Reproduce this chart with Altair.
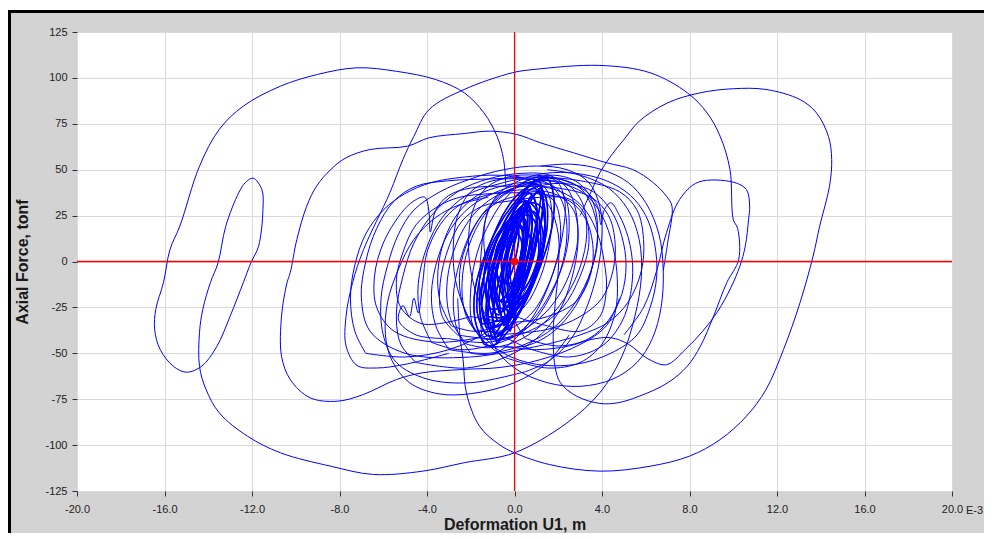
import altair as alt
import pandas as pd

X_TICKS = [-20, -16, -12, -8, -4, 0, 4, 8, 12, 16, 20]
Y_TICKS = [-125, -100, -75, -50, -25, 0, 25, 50, 75, 100, 125]

SEG_LEFT = [(-0.4,41),(-0.5,55.6),(-0.8,68.2),(-1.4,81.0),(-2.3,91.9),(-3.6,99.1),(-5.4,103.6),(-7.2,105.5),
            (-9.0,101.9),(-10.7,95.5),(-12.4,84.6),(-13.5,71.9),(-14.4,51.9),(-15.3,19.2),(-15.75,6.5),
            (-16.05,-11.6),(-16.4,-26.1),(-16.45,-37.0),(-16.2,-47.9),(-15.6,-57.0),(-15.0,-60.3),(-14.3,-57.0),
            (-13.6,-46.1),(-13.0,-29.8),(-12.4,-11.6),(-12.05,-0.7),(-11.7,8.3),(-11.5,28.3),(-11.55,39.2),
            (-11.95,45.4),(-12.3,43.0),(-12.6,37.6),(-13.2,19.2),(-13.55,-0.7),(-13.9,-11.4),(-14.25,-26.1),
            (-14.4,-38.7),(-14.4,-57.2),(-14.1,-69.7),(-13.5,-82.4),(-12.2,-95.2),(-10.7,-104.2),(-8.4,-111.5),
            (-6.45,-116.0),(-4.2,-114.2),(-2.3,-109.6),(0.0,-104.2),(2.4,-87.9),(3.9,-71.5),(4.9,-52),(5.5,-30),
            (5.8,-8),(5.7,12),(5.2,28),(4.3,40),(3.0,47),(1.5,50)]
SEG_TOP = [(-3.0,-50),(-5.0,-56),(-6.3,-58),(-7.2,-56.6),(-7.7,-46),(-7.7,-29.8),(-7.4,-11.4),(-6.9,6.5),
           (-5.7,37.4),(-5.1,55.6),(-4.6,68.2),(-3.9,82.8),(-2.3,93.7),(-0.1,102.8),(0.9,104.6),(3.9,106.8),
           (6.2,102.8),(7.9,91.9),(8.8,81.0),(9.4,68.2),(9.85,50.1),(10.0,22.9),(10.2,18),(10.25,1.1),
           (9.7,-11.6),(9.1,-29.8),(8.5,-46.1),(7.9,-57.0),(7.0,-66.1),(5.7,-73.4),(4.7,-77.0),(3.9,-77.3),
           (2.85,-73.4),(2.1,-66.1),(1.85,-57),(1.77,-38.7),(1.85,-24.3),(2.0,-5),(2.0,15),(1.6,30),(1.0,38)]
SEG_RIGHT = [(-2.6,-20),(-2.5,-40),(-2.35,-53.4),(-2.2,-71.5),(-1.6,-89.7),(-0.7,-99.7),(0.0,-104.2),
             (1.6,-110.6),(3.9,-114.2),(6.2,-111.5),(8.0,-106.0),(9.4,-97.0),(10.6,-84.3),(11.5,-69.7),
             (12.3,-47.9),(13.05,-22.5),(13.65,2.9),(13.95,19.2),(14.4,41.0),(14.5,55.6),(14.35,68.2),
             (13.8,81.0),(13.05,88.2),(11.5,93.7),(10.0,94.1),(8.5,91.9),(7.0,86.4),(5.7,76.4),(5.0,66.4),
             (4.4,57.4),(3.9,48.3),(3.5,38),(3.0,25)]
SEG_WIDE = [(6.8,-5),(7.0,10),(7.2,30.1),(6.95,35.5),(6.35,42.9),(5.4,50.1),(4.2,53.8),(2.7,59.2),(1.2,64.6),
            (0.1,69.2),(-1.1,71.0),(-2.3,69.7),(-3.9,67.4),(-4.9,62.8),(-6.6,61.0),(-7.7,56.5),(-8.4,50.1),
            (-9.05,41.0),(-9.5,30.1),(-9.95,12.0),(-10.25,-6.0),(-10.4,-11.6),(-10.65,-29.8),(-10.65,-51.6),
            (-10.25,-64.3),(-9.35,-74.2),(-8.1,-76.1),(-6.9,-72.4),(-5.4,-64.3),(-4.2,-60.6),(-2.35,-58.8),
            (-0.65,-57.7),(1.2,-53.4),(3.0,-45.2),(4.2,-35),(4.8,-20)]
SEG_FLAT = [(5.0,-40),(5.9,-25),(6.5,-5),(6.95,15.8),(7.55,33.8),(8.4,43.2),(10.0,43.2),(10.6,39.2),
            (10.75,30.1),(10.7,22.9),(10.55,8.3),(10.3,-2.6),(9.9,-14),(9.3,-27),(8.6,-38),(7.8,-48),
            (6.95,-56.2),(6.1,-53),(5.2,-45),(4.4,-41.5),(3.5,-42.5),(2.5,-46),(1.0,-48),(-0.5,-46)]

MID_A = [(1.5,-45),(-2.0,-52),(-5.0,-50),(-6.6,-38),(-7.0,-20),(-6.8,0),(-6.3,18),(-5.5,33),(-4.5,41),(-3.0,44),
         (-1.0,45),(1.0,46),(3.0,44),(4.8,38),(5.6,28),(5.9,12),(5.8,-5),(5.2,-22),(4.3,-33),(3.0,-40),(1.5,-45)]
MID_B = [(-1.0,-40),(-3.5,-44),(-5.5,-38),(-6.3,-25),(-6.4,-8),(-6.0,10),(-5.2,26),(-4.6,33),(-4.1,35),(-3.9,26),
         (-3.85,16),(-3.6,28),(-3.0,36),(-2.0,40),(0.0,41),(2.0,40),(3.5,35),(4.3,25),(4.6,10),(4.5,-5),(4.0,-20),
         (3.0,-30),(1.5,-37),(-1.0,-40)]
MID_C = [(-2.0,-30),(-4.2,-34),(-5.2,-25),(-5.4,-10),(-5.1,5),(-4.5,20),(-3.5,30),(-2.5,35),(-1.0,37),(1.0,37),
         (2.5,33),(3.3,22),(3.6,5),(3.4,-10),(2.8,-22),(1.5,-30),(0.0,-33),(-2.0,-30)]
MID_D = [(0.5,-60),(-2.0,-66),(-4.0,-64),(-5.4,-55),(-6.0,-40),(-6.1,-20),(-5.8,-2),(-5.3,15),(-4.6,28),(-3.4,38),
         (-2.0,45),(-0.5,50),(1.0,52),(2.4,50),(3.4,43),(3.9,30),(4.0,15),(3.8,-5),(3.3,-25),(2.6,-42),(1.6,-54),(0.5,-60)]
MID_E = [(-3.0,-42),(-4.5,-40),(-5.3,-32),(-5.1,-24),(-4.8,-30),(-4.6,-20),(-4.4,-28),(-4.2,-12),(-4.0,5),(-3.4,20),
         (-2.6,30),(-1.6,35),(-0.5,38),(0.8,39),(2.0,36),(2.7,28),(2.9,15),(2.7,0),(2.2,-15),(1.4,-28),(0.3,-38),
         (-1.2,-44),(-3.0,-42)]
MID_F = [(2.5,-40),(1.5,-55),(0.0,-66),(-2.0,-72),(-3.5,-72),(-4.8,-66),(-5.6,-54),(-5.9,-40),(-5.8,-22),(-5.3,-4),
         (-4.6,12),(-3.6,24),(-2.5,31),(-1.2,35)]
MID_G = [(-1.5,-25),(-1.0,-45),(0.0,-58),(1.5,-66),(3.0,-68),(4.5,-64),(5.6,-55),(6.3,-42),(6.7,-25),(6.8,-5),
         (6.6,15),(6.0,32),(5.2,43),(4.0,50),(2.6,53),(1.2,52)]
MID_H = [(-4.5,-55),(-5.2,-45),(-5.4,-28),(-5.1,-8),(-4.6,10),(-3.8,25),(-2.6,38),(-1.2,45),(0.3,48),(1.6,47),
         (2.4,40),(2.8,28),(2.9,10),(2.6,-10),(2.0,-28),(1.0,-42),(-0.4,-52),(-2.2,-58),(-4.5,-55)]
MID_I = [(-6.8,-50),(-7.3,-38),(-7.5,-20),(-7.3,-2),(-6.8,15),(-6.0,28),(-5.0,37),(-3.8,43),(-2.3,46),(-0.8,47),
         (0.5,45),(1.2,38),(1.4,25),(1.2,8),(0.7,-10),(0.0,-25),(-1.2,-38),(-3.0,-48),(-5.0,-52),(-6.8,-50)]
RGT_A = [(-0.5,-52),(1.5,-58),(3.0,-55),(4.0,-45),(4.6,-28),(4.7,-10),(4.5,8),(4.0,25),(3.2,37),(2.0,43),(0.5,45),
         (-1.0,44),(-2.0,38),(-2.6,25),(-2.8,8),(-2.7,-10),(-2.2,-28),(-1.5,-42),(-0.5,-52)]
RGT_B = [(0.8,-48),(2.5,-52),(4.0,-46),(4.9,-33),(5.3,-18),(5.4,-2),(5.2,13),(4.8,25),(4.4,32),(4.1,28),(3.95,20),
         (3.8,30),(3.3,38),(2.3,44),(1.0,47),(-0.3,46),(-1.3,40),(-1.9,28),(-2.1,12),(-2.0,-5),(-1.6,-22),(-0.8,-38),(0.8,-48)]
RGT_C = [(1.5,-35),(3.0,-38),(3.9,-30),(4.2,-15),(4.1,0),(3.8,15),(3.3,27),(2.6,35),(1.6,40),(0.4,41),(-0.6,37),
         (-1.2,28),(-1.4,15),(-1.3,0),(-0.9,-15),(-0.2,-28),(1.5,-35)]
RGT_D = [(-1.5,-40),(-0.5,-50),(1.0,-56),(2.8,-56),(4.4,-50),(5.6,-40),(6.2,-25),(6.5,-8),(6.4,10),(6.0,25),(5.3,36),
         (4.2,44),(2.8,48),(1.4,48),(0.2,44),(-0.8,36),(-1.3,24),(-1.5,8),(-1.6,-10),(-1.6,-25),(-1.5,-40)]
RGT_E = [(0.5,-42),(2.0,-46),(3.4,-42),(4.3,-32),(4.9,-18),(5.1,-2),(4.9,14),(4.4,28),(3.6,38),(2.6,42),(1.5,42),
         (0.6,38),(0.0,28),(-0.3,14),(-0.4,-2),(-0.3,-18),(0.0,-32),(0.5,-42)]

SMALL_A = [(-1.5,-42),(-2.2,-30),(-2.4,-12),(-2.1,8),(-1.4,25),(-0.5,36),(0.5,42),(1.6,42),(2.3,35),(2.5,20),(2.3,2),
           (1.7,-16),(0.8,-32),(-0.3,-42),(-1.5,-42)]
SMALL_B = [(-2.2,-45),(-2.9,-32),(-3.1,-15),(-2.8,5),(-2.1,22),(-1.2,33),(0.0,40),(1.3,44),(2.4,42),(3.1,32),(3.3,15),
           (3.0,-3),(2.3,-20),(1.2,-35),(0.0,-44),(-1.2,-47),(-2.2,-45)]
SMALL_C = [(-1.8,-38),(-2.4,-22),(-2.5,-5),(-2.1,12),(-1.5,25),(-0.8,32),(0.2,36),(1.0,38),(1.8,33),(2.1,20),(2.0,4),
           (1.5,-14),(0.8,-28),(-0.3,-37),(-1.8,-38)]
SMALL_D = [(-3.0,-48),(-3.6,-35),(-3.8,-18),(-3.5,2),(-2.9,18),(-2.0,30),(-0.8,38),(0.6,43),(2.0,45),(3.0,40),(3.6,28),
           (3.8,12),(3.5,-5),(2.8,-22),(1.8,-36),(0.5,-45),(-1.2,-50),(-3.0,-48)]
SMALL_E = [(-2.6,-40),(-3.3,-30),(-3.4,-12),(-3.0,8),(-2.4,22),(-1.5,30),(-0.2,33),(1.2,35),(2.5,34),(3.2,26),(3.4,10),
           (3.0,-8),(2.2,-25),(1.0,-36),(-0.6,-42),(-2.6,-40)]
SMALL_F = [(-2.0,-50),(-2.6,-38),(-2.8,-20),(-2.5,0),(-1.9,18),(-1.0,32),(0.1,41),(1.0,46),(1.9,44),(2.3,33),(2.2,15),
           (1.8,-5),(1.1,-25),(0.2,-40),(-0.9,-50),(-2.0,-50)]
SMALL_G = [(-3.8,-44),(-4.3,-30),(-4.4,-12),(-4.0,8),(-3.3,24),(-2.2,36),(-0.8,42),(0.5,45),(1.6,42),(2.2,32),(2.4,15),
           (2.1,-5),(1.4,-24),(0.4,-38),(-1.2,-46),(-2.6,-48),(-3.8,-44)]
SMALL_H = [(-1.2,-46),(-1.9,-35),(-2.0,-15),(-1.7,5),(-1.1,22),(-0.3,36),(0.6,44),(1.8,47),(2.9,43),(3.6,32),(3.8,15),
           (3.5,-5),(2.8,-24),(1.8,-38),(0.5,-46),(-1.2,-46)]
SMALL_I = [(-2.9,-35),(-3.4,-22),(-3.5,-5),(-3.2,12),(-2.6,26),(-1.7,36),(-0.6,41),(0.6,43),(1.4,40),(1.7,28),(1.6,10),
           (1.2,-8),(0.5,-24),(-0.6,-34),(-1.8,-38),(-2.9,-35)]

CORE_1 = [(-0.6,-30),(-0.9,-15),(-0.7,0),(-0.3,15),(0.2,28),(0.6,32),(0.8,25),(0.7,10),(0.4,-5),(0.0,-20),(-0.3,-30),(-0.6,-30)]
CORE_2 = [(-0.4,-25),(-0.6,-10),(-0.4,5),(0.0,18),(0.4,24),(0.6,18),(0.5,5),(0.2,-10),(-0.1,-22),(-0.4,-25)]
CORE_3 = [(-0.9,-35),(-1.2,-20),(-1.0,-3),(-0.5,15),(0.1,30),(0.7,37),(1.0,30),(1.0,15),(0.7,-2),(0.2,-20),(-0.4,-33),(-0.9,-35)]
CORE_4 = [(-0.2,-15),(-0.35,-5),(-0.2,8),(0.1,15),(0.3,12),(0.3,2),(0.1,-8),(-0.2,-15)]
CORE_5 = [(-1.1,-38),(-1.5,-25),(-1.4,-8),(-0.9,10),(-0.3,25),(0.4,36),(0.9,40),(1.3,33),(1.4,18),(1.1,0),(0.5,-18),
          (-0.2,-32),(-0.7,-39),(-1.1,-38)]
CORE_6 = [(-0.5,-20),(-0.8,-8),(-0.6,6),(-0.2,20),(0.3,26),(0.5,20),(0.4,6),(0.1,-8),(-0.2,-18),(-0.5,-20)]
CORE_7 = [(-0.7,-28),(-1.0,-12),(-0.8,4),(-0.3,18),(0.2,27),(0.5,28),(0.6,18),(0.4,2),(0.0,-14),(-0.4,-26),(-0.7,-28)]
CORE_8 = [(-1.3,-40),(-1.7,-28),(-1.6,-10),(-1.1,10),(-0.4,28),(0.3,38),(1.0,42),(1.4,36),(1.5,20),(1.2,2),(0.6,-18),
          (-0.1,-33),(-0.8,-41),(-1.3,-40)]
CORE_9 = [(-0.3,-22),(-0.5,-8),(-0.3,6),(0.0,14),(0.25,20),(0.4,14),(0.3,0),(0.05,-12),(-0.3,-22)]
CORE_10 = [(-0.8,-32),(-1.0,-18),(-0.8,-2),(-0.4,12),(0.1,24),(0.6,30),(0.8,22),(0.7,8),(0.4,-8),(-0.1,-24),(-0.5,-32),(-0.8,-32)]
CORE_11 = [(-0.5,-35),(-0.7,-20),(-0.5,-5),(-0.2,10),(0.2,25),(0.5,33),(0.7,28),(0.6,12),(0.3,-5),(-0.1,-22),(-0.4,-34),(-0.5,-35)]
CORE_12 = [(-0.3,-28),(-0.55,-15),(-0.45,0),(-0.15,15),(0.15,26),(0.35,30),(0.45,20),(0.3,5),(0.05,-12),(-0.2,-25),(-0.3,-28)]
CORE_13 = [(-1.0,-42),(-1.3,-28),(-1.1,-10),(-0.6,10),(0.0,28),(0.6,40),(1.1,44),(1.3,35),(1.1,15),(0.6,-5),(0.0,-25),
           (-0.5,-38),(-1.0,-42)]
CORE_14 = [(-0.15,-30),(-0.3,-15),(-0.2,0),(0.05,15),(0.25,28),(0.4,22),(0.35,5),(0.15,-12),(-0.05,-25),(-0.15,-30)]
CORE_15 = [(-0.7,-22),(-0.9,-10),(-0.7,3),(-0.4,14),(0.0,20),(0.3,18),(0.35,8),(0.1,-5),(-0.3,-17),(-0.7,-22)]
CORE_16 = [(-0.2,-38),(-0.5,-25),(-0.4,-8),(0.0,10),(0.4,26),(0.8,36),(1.0,30),(0.9,14),(0.6,-4),(0.2,-22),(-0.2,-38)]
CORE_17 = [(-1.4,-45),(-1.8,-32),(-1.8,-15),(-1.3,5),(-0.6,22),(0.2,35),(0.9,44),(1.5,45),(1.8,35),(1.7,18),(1.2,-2),
           (0.5,-22),(-0.3,-38),(-1.0,-46),(-1.4,-45)]
CORE_18 = [(-0.45,-12),(-0.6,-2),(-0.45,10),(-0.15,20),(0.1,22),(0.2,14),(0.05,2),(-0.2,-8),(-0.45,-12)]
CORE_19 = [(-0.9,-28),(-1.1,-15),(-0.9,0),(-0.5,16),(0.0,28),(0.4,34),(0.6,28),(0.5,12),(0.2,-5),(-0.3,-20),(-0.7,-29),(-0.9,-28)]
CORE_20 = [(0.0,-20),(-0.2,-8),(-0.1,5),(0.15,17),(0.4,24),(0.55,18),(0.5,5),(0.3,-8),(0.1,-18),(0.0,-20)]
CORE_21 = [(-1.2,-30),(-1.3,-15),(-1.1,0),(-0.7,15),(-0.1,28),(0.5,33),(1.0,28),(1.2,12),(1.0,-5),(0.5,-20),(-0.3,-30),(-1.2,-30)]
CORE_22 = [(-1.0,-20),(-1.2,-8),(-1.0,6),(-0.5,18),(0.2,25),(0.8,24),(1.1,12),(1.0,-2),(0.5,-14),(-0.2,-22),(-1.0,-20)]
CORE_23 = [(-1.5,-34),(-1.6,-20),(-1.3,-4),(-0.8,12),(-0.1,25),(0.6,32),(1.2,30),(1.4,16),(1.2,0),(0.6,-16),(-0.3,-30),(-1.5,-34)]
CORE_24 = [(-0.9,-40),(-1.2,-30),(-1.0,-12),(-0.5,6),(0.1,22),(0.7,34),(1.2,38),(1.3,28),(1.0,10),(0.4,-10),(-0.3,-28),(-0.9,-40)]
CORE_25 = [(-0.6,-12),(-0.9,-3),(-0.8,8),(-0.4,16),(0.1,20),(0.6,16),(0.8,6),(0.6,-4),(0.1,-11),(-0.6,-12)]
CORE_26 = [(-1.1,-26),(-1.4,-12),(-1.2,4),(-0.6,18),(0.2,26),(0.9,27),(1.3,16),(1.2,0),(0.7,-14),(-0.1,-24),(-1.1,-26)]
CORE_27 = [(-0.8,-45),(-1.0,-32),(-0.8,-15),(-0.3,5),(0.3,22),(0.9,36),(1.2,40),(1.1,26),(0.7,6),(0.2,-15),(-0.3,-33),(-0.8,-45)]
CORE_28 = [(-1.3,-36),(-1.5,-24),(-1.2,-8),(-0.7,8),(0.0,20),(0.6,28),(1.0,24),(1.0,10),(0.6,-8),(0.0,-24),(-0.7,-35),(-1.3,-36)]

SEGMENTS = {
    "left": SEG_LEFT, "top": SEG_TOP, "right": SEG_RIGHT, "wide": SEG_WIDE, "flat": SEG_FLAT,
    "mid_a": MID_A, "mid_b": MID_B, "mid_c": MID_C, "mid_d": MID_D, "mid_e": MID_E, "mid_f": MID_F,
    "mid_g": MID_G, "mid_h": MID_H, "mid_i": MID_I,
    "rgt_a": RGT_A, "rgt_b": RGT_B, "rgt_c": RGT_C, "rgt_d": RGT_D, "rgt_e": RGT_E,
    "small_a": SMALL_A, "small_b": SMALL_B, "small_c": SMALL_C, "small_d": SMALL_D, "small_e": SMALL_E,
    "small_f": SMALL_F, "small_g": SMALL_G, "small_h": SMALL_H, "small_i": SMALL_I,
    "core_1": CORE_1, "core_2": CORE_2, "core_3": CORE_3, "core_4": CORE_4, "core_5": CORE_5,
    "core_6": CORE_6, "core_7": CORE_7, "core_8": CORE_8, "core_9": CORE_9, "core_10": CORE_10,
    "core_11": CORE_11, "core_12": CORE_12, "core_13": CORE_13, "core_14": CORE_14, "core_15": CORE_15,
    "core_16": CORE_16, "core_17": CORE_17, "core_18": CORE_18, "core_19": CORE_19, "core_20": CORE_20,
    "core_21": CORE_21, "core_22": CORE_22, "core_23": CORE_23, "core_24": CORE_24, "core_25": CORE_25,
    "core_26": CORE_26, "core_27": CORE_27, "core_28": CORE_28,
}

rows = []
for name, pts in SEGMENTS.items():
    for i, (x, y) in enumerate(pts):
        rows.append({"seg": name, "i": i, "x": x, "y": y})
df = pd.DataFrame(rows)
core_df = df[df["seg"].str.startswith("core")]

CROSS_H = pd.DataFrame({"x": [-20, 20], "y": [0, 0]})
CROSS_V = pd.DataFrame({"x": [0, 0], "y": [-125, 125]})
ORIGIN = pd.DataFrame({"x": [0], "y": [0]})

W, H = 875, 459
FONT = "Liberation Sans"

xscale = alt.Scale(domain=[-20, 20], nice=False, zero=False)
yscale = alt.Scale(domain=[-125, 125], nice=False, zero=False)

xaxis = alt.Axis(values=X_TICKS,
                 labelExpr="(datum.value < 0 ? '-' : '') + format(abs(datum.value), '.1f')",
                 grid=True, gridColor="#dadada",
                 domain=False, tickColor="#333333", tickSize=5, labelFont=FONT, labelFontSize=11,
                 labelColor="#222222", labelPadding=7, title="Deformation U1, m", titleFont=FONT,
                 titleFontSize=16, titleFontWeight="bold", titleColor="#1a1a1a", titleX=W / 2, titleY=33,
                 titleBaseline="middle", labelFlush=False)
yaxis = alt.Axis(values=Y_TICKS, labelExpr="(datum.value < 0 ? '-' : '') + format(abs(datum.value), 'd')",
                 grid=True, gridColor="#dadada", domain=False, tickColor="#333333",
                 tickSize=5, labelFont=FONT, labelFontSize=11, labelColor="#222222", labelPadding=5,
                 title="Axial Force, tonf", titleFont=FONT, titleFontSize=16, titleFontWeight="bold",
                 titleColor="#1a1a1a", titleX=-55, titleY=H / 2, titleAngle=-90, titleAlign="center",
                 titleBaseline="middle", labelFlush=False)

curve = alt.Chart(df).mark_line(strokeWidth=1, interpolate="catmull-rom").encode(
    x=alt.X("x:Q", scale=xscale, axis=xaxis),
    y=alt.Y("y:Q", scale=yscale, axis=yaxis),
    color=alt.value("#0000ff"),
    detail="seg:N",
    order="i:Q",
)
core = alt.Chart(core_df).mark_line(strokeWidth=1.6, interpolate="catmull-rom").encode(
    x=alt.X("x:Q", scale=xscale),
    y=alt.Y("y:Q", scale=yscale),
    color=alt.value("#0000ff"),
    detail="seg:N",
    order="i:Q",
)

vline = alt.Chart(CROSS_V).mark_line(strokeWidth=1.2, color="#ff0000").encode(
    x=alt.X("x:Q", scale=xscale), y=alt.Y("y:Q", scale=yscale))
hline = alt.Chart(CROSS_H).mark_line(strokeWidth=1.6, color="#ff0000").encode(
    x=alt.X("x:Q", scale=xscale), y=alt.Y("y:Q", scale=yscale))
dot = alt.Chart(ORIGIN).mark_circle(size=60, opacity=1, color="#ff0000").encode(
    x=alt.X("x:Q", scale=xscale), y=alt.Y("y:Q", scale=yscale))

e3 = alt.Chart(pd.DataFrame({"x": [20], "t": ["E-3"]})).mark_text(
    align="left", baseline="middle", dx=14, font=FONT, fontSize=11, color="#222222").encode(
    x=alt.X("x:Q", scale=xscale), y=alt.value(H + 20), text="t:N")

frame_white = alt.Chart(pd.DataFrame({"a": [0]})).mark_rule(strokeWidth=2, color="#ffffff").encode(
    x=alt.value(-69), x2=alt.value(W + 40), y=alt.value(-23))
frame_top = alt.Chart(pd.DataFrame({"a": [0]})).mark_rule(strokeWidth=3, color="#000000").encode(
    x=alt.value(-69), x2=alt.value(W + 40), y=alt.value(-20.5))
frame_left = alt.Chart(pd.DataFrame({"a": [0]})).mark_rule(strokeWidth=3, color="#000000").encode(
    x=alt.value(-67.5), y=alt.value(-22), y2=alt.value(H + 50))

chart = alt.layer(curve, vline, core, hline, dot, e3, frame_white, frame_top, frame_left).properties(
    width=W, height=H,
    padding={"left": 69, "top": 24, "right": 32, "bottom": 42},
    autosize=alt.AutoSizeParams(type="none"),
    background="#d3d3d3",
).configure_view(fill="#ffffff", stroke=None)

chart.save("out.html", embed_options={"renderer": "svg", "actions": False})
